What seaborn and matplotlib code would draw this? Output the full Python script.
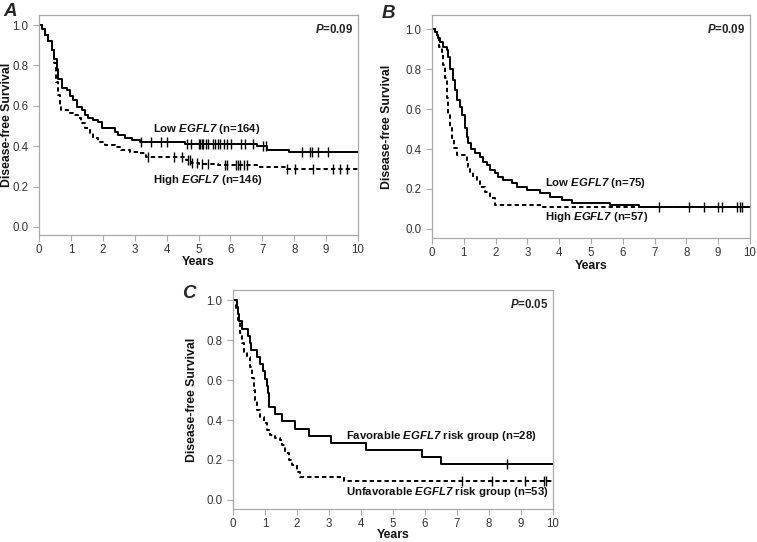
import numpy as np
import seaborn as sns
import matplotlib.pyplot as plt

# Panel A: steps (time in years, survival)
a_low_t = [0, 0.08, 0.19, 0.29, 0.40, 0.48, 0.55, 0.61, 0.71, 0.87, 0.97, 1.06, 1.18, 1.34, 1.44, 1.55,
           1.70, 1.86, 1.96, 2.38, 2.47, 2.70, 2.90, 3.17, 4.58, 6.82, 7.14, 7.82]
a_low_s = [1.0, 0.98, 0.95, 0.92, 0.876, 0.83, 0.78, 0.735, 0.69, 0.678, 0.65, 0.628, 0.595, 0.578, 0.554, 0.542,
           0.529, 0.52, 0.488, 0.47, 0.455, 0.443, 0.433, 0.42, 0.41, 0.40, 0.383, 0.369]
a_low_cens = [3.19, 3.50, 3.83, 4.0, 4.65, 4.76, 5.0, 5.05, 5.1, 5.15, 5.22, 5.3, 5.45, 5.52, 5.6, 5.68,
              5.8, 5.9, 6.02, 6.32, 6.47, 6.72, 7.02, 7.1, 8.23, 8.5, 8.56, 8.74, 9.07]
a_high_t = [0, 0.08, 0.19, 0.29, 0.40, 0.47, 0.54, 0.60, 0.65, 0.70, 0.91, 1.07, 1.22, 1.33, 1.43, 1.59,
            1.69, 1.85, 2.06, 2.37, 2.58, 2.84, 3.10, 3.36, 4.60, 4.75, 5.0, 5.6, 6.82, 7.76]
a_high_s = [1.0, 0.98, 0.95, 0.92, 0.876, 0.81, 0.72, 0.653, 0.604, 0.58, 0.563, 0.554, 0.538, 0.513, 0.489, 0.464,
            0.44, 0.42, 0.406, 0.398, 0.38, 0.373, 0.365, 0.347, 0.334, 0.319, 0.31, 0.306, 0.298, 0.286]
a_high_cens = [3.41, 4.23, 4.47, 4.68, 4.74, 4.79, 4.94, 5.1, 5.31, 5.82, 5.88, 6.19, 6.24, 6.29, 6.42, 6.52,
               7.78, 8.03, 8.6, 9.23, 9.44, 9.64]

# Panel B
b_low_t = [0, 0.09, 0.15, 0.20, 0.25, 0.36, 0.46, 0.51, 0.57, 0.67, 0.72, 0.80, 0.88, 0.93, 1.04, 1.09, 1.14,
           1.22, 1.35, 1.51, 1.61, 1.72, 1.82, 1.98, 2.09, 2.24, 2.50, 2.66, 2.98, 3.40, 3.71, 4.08, 4.39,
           5.60, 6.50]
b_low_s = [1.0, 0.985, 0.97, 0.955, 0.937, 0.91, 0.895, 0.86, 0.80, 0.745, 0.695, 0.645, 0.61, 0.57, 0.503,
           0.46, 0.43, 0.40, 0.378, 0.362, 0.337, 0.32, 0.295, 0.278, 0.262, 0.245, 0.232, 0.212, 0.195, 0.178,
           0.162, 0.145, 0.132, 0.118, 0.108]
b_low_cens = [7.14, 8.08, 8.56, 9.0, 9.11, 9.6, 9.69, 9.74]
b_high_t = [0, 0.09, 0.15, 0.23, 0.30, 0.36, 0.41, 0.46, 0.51, 0.57, 0.62, 0.69, 0.78, 1.09, 1.14, 1.19,
            1.30, 1.41, 1.51, 1.67, 1.82, 1.98, 2.09, 3.45, 6.50]
b_high_s = [1.0, 0.985, 0.97, 0.912, 0.887, 0.82, 0.753, 0.653, 0.57, 0.503, 0.453, 0.403, 0.37, 0.337,
            0.31, 0.287, 0.26, 0.245, 0.21, 0.187, 0.153, 0.12, 0.12, 0.112, 0.108]

# Panel C
c_fav_t = [0, 0.12, 0.16, 0.20, 0.28, 0.48, 0.52, 0.56, 0.75, 0.85, 0.93, 1.01, 1.06, 1.10, 1.11, 1.12,
           1.32, 1.53, 1.95, 2.36, 3.06, 4.15, 5.90, 6.50]
c_fav_s = [1.0, 0.964, 0.929, 0.893, 0.857, 0.821, 0.786, 0.75, 0.714, 0.679, 0.643, 0.607, 0.571, 0.536,
           0.5, 0.464, 0.429, 0.393, 0.357, 0.321, 0.286, 0.25, 0.214, 0.179]
c_fav_cens = [8.55]
c_unf_t = [0, 0.10, 0.16, 0.22, 0.28, 0.33, 0.44, 0.54, 0.60, 0.65, 0.70, 0.75, 0.85, 0.96, 1.06, 1.16,
           1.32, 1.48, 1.53, 1.64, 1.74, 1.84, 2.00, 2.10, 3.46]
c_unf_s = [1.0, 0.96, 0.9, 0.833, 0.783, 0.742, 0.716, 0.666, 0.608, 0.55, 0.50, 0.45, 0.417, 0.383, 0.35,
           0.325, 0.308, 0.30, 0.275, 0.233, 0.20, 0.175, 0.142, 0.113, 0.094]
c_unf_cens = [7.15, 8.08, 9.13, 9.72, 9.78]

sns.set_style("ticks")
plt.rcParams['font.family'] = ['Liberation Sans', 'DejaVu Sans']
plt.rcParams['mathtext.fontset'] = 'custom'
plt.rcParams['mathtext.bfit'] = 'Liberation Sans:bold:italic'
plt.rcParams['mathtext.it'] = 'Liberation Sans:italic'
plt.rcParams['mathtext.bf'] = 'Liberation Sans:bold'
plt.rcParams['mathtext.rm'] = 'Liberation Sans'

fig = plt.figure(figsize=(7.57, 5.42), dpi=100)
axA = fig.add_axes([0.0515, 0.5664, 0.4215, 0.406])
axB = fig.add_axes([0.5707, 0.5609, 0.420, 0.4114])
axC = fig.add_axes([0.3078, 0.0609, 0.4227, 0.404])

def km(ax, t, s, cens, dashed):
    t = list(t) + [10.0]
    s = list(s) + [s[-1]]
    ls = (0, (2.2, 1.6)) if dashed else '-'
    sns.lineplot(x=t, y=s, ax=ax, color='black', lw=1.4, linestyle=ls,
                 drawstyle='steps-post', estimator=None, sort=False)
    if cens:
        idx = np.searchsorted(t, cens, side='right') - 1
        ys = np.array(s)[idx]
        sns.scatterplot(x=cens, y=ys, ax=ax, marker='|', color='black', s=50, linewidth=1.0)

def style(ax, ylim, letter, letter_xy, ylab_x, xlab_y, pval):
    ax.set_xlim(0, 10)
    ax.set_ylim(*ylim)
    ax.set_xticks(range(0, 11))
    ax.set_yticks([0.0, 0.2, 0.4, 0.6, 0.8, 1.0])
    ax.set_yticklabels(['0.0', '0.2', '0.4', '0.6', '0.8', '1.0'])
    for sp in ax.spines.values():
        sp.set_visible(True)
        sp.set_color('#a8a8a8')
        sp.set_linewidth(0.9)
    ax.tick_params(colors='#a8a8a8', labelcolor='#333333', labelsize=8.3, length=4, width=0.8)
    ax.tick_params(axis='x', pad=2.5)
    ax.set_xlabel('Years', fontsize=8.8, fontweight='bold', color='#111111')
    ax.set_ylabel('Disease-free Survival', fontsize=8.8, fontweight='bold', color='#111111')
    ax.xaxis.set_label_coords(0.5, xlab_y)
    ax.yaxis.set_label_coords(ylab_x, 0.5)
    ax.text(0.985, 0.965, r'$\bfit{P}$' + '=' + pval, transform=ax.transAxes, ha='right', va='top',
            fontsize=8.3, fontweight='bold')
    ax.text(letter_xy[0], letter_xy[1], letter, transform=ax.transAxes, ha='left', va='center',
            fontsize=13.5, fontweight='bold', fontstyle='italic')

def label(ax, x, y, pre, post):
    ax.text(x, y, pre + r'$\bfit{EGFL7}$' + post, fontsize=8.2, fontweight='bold', va='center', color='#111111')

km(axA, a_high_t, a_high_s, a_high_cens, True)
km(axA, a_low_t, a_low_s, a_low_cens, False)
style(axA, (-0.04, 1.05), 'A', (-0.113, 1.016), -0.081, -0.097, '0.09')
label(axA, 3.57, 0.485, 'Low ', ' (n=164)')
label(axA, 3.57, 0.233, 'High ', ' (n=146)')

km(axB, b_high_t, b_high_s, [], True)
km(axB, b_low_t, b_low_s, b_low_cens, False)
style(axB, (-0.045, 1.07), 'B', (-0.157, 1.007), -0.122, -0.1, '0.09')
label(axB, 3.55, 0.23, 'Low ', ' (n=75)')
label(axB, 3.55, 0.058, 'High ', ' (n=57)')

km(axC, c_unf_t, c_unf_s, c_unf_cens, True)
km(axC, c_fav_t, c_fav_s, c_fav_cens, False)
style(axC, (-0.045, 1.05), 'C', (-0.16, 0.982), -0.108, -0.093, '0.05')
label(axC, 3.52, 0.32, 'Favorable ', ' risk group (n=28)')
label(axC, 3.52, 0.04, 'Unfavorable ', ' risk group (n=53)')

fig.savefig('out.png', dpi=100)
